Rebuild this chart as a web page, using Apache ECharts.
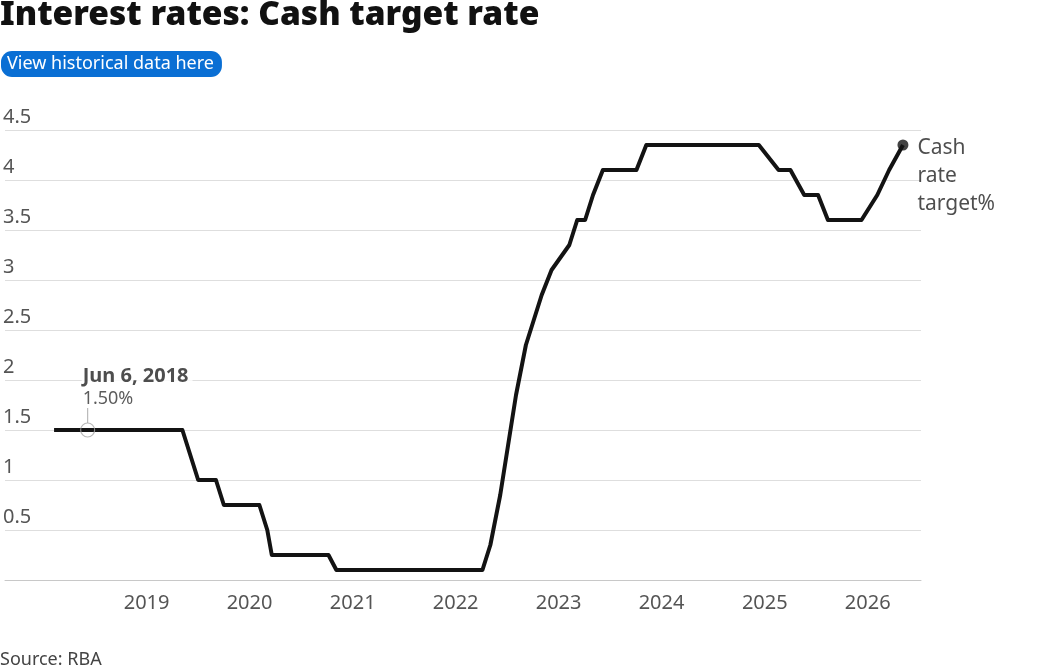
<!DOCTYPE html>
<html><head><meta charset="utf-8">
<script src="https://cdn.jsdelivr.net/npm/echarts@6/dist/echarts.min.js"></script>
<style>html,body{margin:0;padding:0;background:#fff}#c{width:1058px;height:669px}</style>
</head><body><div id="c"></div>
<script>
// RBA cash rate target, at each board decision (effective dates)
const dates = [
 '2018-02-07','2018-03-07','2018-04-04','2018-05-02','2018-06-06','2018-07-04','2018-08-08','2018-09-05','2018-10-03','2018-11-07','2018-12-05',
 '2019-02-06','2019-03-06','2019-04-03','2019-05-08','2019-06-05','2019-07-03','2019-08-07','2019-09-04','2019-10-02','2019-11-06','2019-12-04',
 '2020-02-05','2020-03-04','2020-03-20','2020-04-08','2020-05-06','2020-06-03','2020-07-08','2020-08-05','2020-09-02','2020-10-07','2020-11-04','2020-12-02',
 '2021-02-03','2021-03-03','2021-04-07','2021-05-05','2021-06-02','2021-07-07','2021-08-04','2021-09-08','2021-10-06','2021-11-03','2021-12-08',
 '2022-02-02','2022-03-02','2022-04-06','2022-05-04','2022-06-08','2022-07-06','2022-08-03','2022-09-07','2022-10-05','2022-11-02','2022-12-07',
 '2023-02-08','2023-03-08','2023-04-05','2023-05-03','2023-06-07','2023-07-05','2023-08-02','2023-09-06','2023-10-04','2023-11-08','2023-12-06',
 '2024-02-07','2024-03-20','2024-05-08','2024-06-19','2024-08-07','2024-09-25','2024-11-06','2024-12-11',
 '2025-02-19','2025-04-02','2025-05-21','2025-07-09','2025-08-13','2025-10-01','2025-11-05','2025-12-10',
 '2026-02-04','2026-03-18','2026-05-06'
];
const rates = [
 1.50,1.50,1.50,1.50,1.50,1.50,1.50,1.50,1.50,1.50,1.50,
 1.50,1.50,1.50,1.50,1.25,1.00,1.00,1.00,0.75,0.75,0.75,
 0.75,0.50,0.25,0.25,0.25,0.25,0.25,0.25,0.25,0.25,0.10,0.10,
 0.10,0.10,0.10,0.10,0.10,0.10,0.10,0.10,0.10,0.10,0.10,
 0.10,0.10,0.10,0.35,0.85,1.35,1.85,2.35,2.60,2.85,3.10,
 3.35,3.60,3.60,3.85,4.10,4.10,4.10,4.10,4.10,4.35,4.35,
 4.35,4.35,4.35,4.35,4.35,4.35,4.35,4.35,
 4.10,4.10,3.85,3.85,3.60,3.60,3.60,3.60,
 3.85,4.10,4.35
];
const xTickLabels = ['2019','2020','2021','2022','2023','2024','2025','2026'];
const yTicks = [0,0.5,1,1.5,2,2.5,3,3.5,4,4.5];
const annotationDate = '2018-06-06';
const seriesName = 'Cash rate target%';
const endLabel = 'Cash\nrate\ntarget%';
const titleText = 'Interest rates: Cash target rate';
const buttonText = 'View historical data here';
const sourceText = 'Source: RBA';

const FONT = "'Noto Sans', 'Open Sans', sans-serif";
const months = ['Jan','Feb','Mar','Apr','May','Jun','Jul','Aug','Sep','Oct','Nov','Dec'];
const pd = s => echarts.number.parseDate(s).getTime();
const lineData = dates.map((d,i) => [pd(d), rates[i]]);
const last = lineData[lineData.length-1];
const ai = dates.indexOf(annotationDate);
const ad = echarts.number.parseDate(annotationDate);
const annLabel = months[ad.getMonth()] + ' ' + ad.getDate() + ', ' + ad.getFullYear();
const annValue = rates[ai].toFixed(2) + '%';
const tickVals = xTickLabels.map(y => pd(y + '-01-01'));

const chart = echarts.init(document.getElementById('c'), null, {renderer:'canvas'});
chart.setOption({
  animation: false,
  textStyle: {fontFamily: FONT},
  title: [
    {text: titleText, left: 0, top: -2, padding: 0,
     textStyle: {fontFamily: FONT, fontSize: 33.5, fontWeight: 900, color: '#111'}},
    {text: buttonText, left: 1, top: 51, backgroundColor: '#0a6fd4', borderRadius: 11,
     padding: [3, 8, 3, 6],
     textStyle: {fontFamily: FONT, fontSize: 18, fontWeight: 'normal', color: '#fff', lineHeight: 20}},
    {text: sourceText, left: 0, top: 650, padding: 0,
     textStyle: {fontFamily: FONT, fontSize: 18, fontWeight: 'normal', color: '#444', lineHeight: 20}}
  ],
  grid: {left: 0, right: 137, top: 130, bottom: 89, containLabel: false},
  xAxis: {
    type: 'value', min: pd('2017-08-17'), max: pd('2026-07-09'),
    axisLine: {show: true, lineStyle: {color: '#c8c8c8', width: 1}},
    axisTick: {show: false},
    splitLine: {show: false},
    axisLabel: {customValues: tickVals, margin: 13, fontSize: 20, color: '#555', fontFamily: FONT,
      formatter: v => String(new Date(v).getFullYear())}
  },
  yAxis: {
    type: 'value', min: 0, max: 4.5, interval: 0.5,
    axisLine: {show: false}, axisTick: {show: false},
    splitLine: {lineStyle: {color: '#dedede', width: 1}},
    axisLabel: {inside: true, margin: -2, align: 'left', verticalAlign: 'bottom', padding: [0,0,3,0],
      fontSize: 20, color: '#555', fontFamily: FONT,
      formatter: v => (v === 0 || yTicks.indexOf(v) < 0) ? '' : String(v)}
  },
  series: [
    {name: seriesName, type: 'line', data: lineData, showSymbol: false, silent: true,
     lineStyle: {color: '#131313', width: 4, join: 'round'}, z: 3},
    {type: 'scatter', data: [last], symbolSize: 11, silent: true, z: 4,
     itemStyle: {color: '#131313'},
     label: {show: true, position: 'right', distance: 9, offset: [0, 31],
       formatter: endLabel, fontSize: 21, lineHeight: 28, color: '#222', fontFamily: FONT}},
    // annotation ring
    {type: 'scatter', data: [lineData[ai]], silent: true, z: 5,
     symbol: 'circle', symbolSize: 14,
     itemStyle: {color: 'rgba(0,0,0,0)', borderColor: '#a8a8a8', borderWidth: 1.2}},
    // annotation stem + label
    {type: 'scatter', data: [lineData[ai]], silent: true, z: 5,
     symbol: 'rect', symbolSize: [1.2, 15], symbolOffset: [0, -14.5],
     itemStyle: {color: '#a8a8a8'},
     label: {show: true, position: 'top', distance: 1, align: 'left', offset: [-6, 3],
       formatter: '{d|' + annLabel + '}\n{v|' + annValue + '}',
       rich: {
         d: {fontFamily: FONT, fontSize: 20, fontWeight: 'bold', color: '#222', lineHeight: 23,
             backgroundColor: '#fff', padding: [0, 4, 0, 1]},
         v: {fontFamily: FONT, fontSize: 18, color: '#333', lineHeight: 22, padding: [0, 0, 0, 1]}
       }}}
  ]
});
</script></body></html>
